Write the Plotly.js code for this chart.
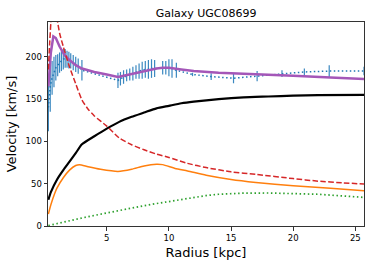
<!DOCTYPE html>
<html><head><meta charset="utf-8">
<script src="https://cdn.plot.ly/plotly-3.0.1.min.js"></script>
<style>html,body{margin:0;padding:0;background:#fff}#c{width:374px;height:266px}</style>
</head><body><div id="c"></div>
<script>
// Observed rotation curve
const obsR   = [0.3,0.45,0.6,0.75,0.9,1.05,1.2,1.35,1.5,1.65,1.8,1.95,2.1,2.3,2.5,2.7,3.0,
                5.9,6.1,6.35,6.6,6.85,7.1,7.35,7.6,7.85,8.1,8.35,8.6,8.85,9.5,9.75,10.0,10.25,10.6,
                11.9,13.4,15.2,17.1,19.1,20.9,22.9,25.7];
const obsV   = [140,165,175,182,187,190,193,195,197,198,197,196,195,193,191,189,184,
                172,174,176,178,179,180,182,183,184,185,185,186,186,187,187,187,186,184,
                179,176.5,174.6,177,180,182,183,183];
const obsErr = [28,30,20,18,15,13,12,12,12,11,10,10,9,9,9,9,12,
                9,8,8,7,7,8,8,9,10,10,11,11,10,8,8,10,11,9,
                2,4,6,6,4,4,7,5];
// Model total (purple)
const modR = [0.3,0.5,0.7,0.9,1.2,1.6,2.0,2.5,3.0,4.0,5.0,5.9,7.0,8.0,9.0,9.5,10.0,11.0,12.0,14.0,17.0,20.0,23.0,25.7];
const modV = [165,205,224,222,212,202,196,190,186,182,179,176,179.5,183,186,187,187,185,183,181,179.5,177.5,175.5,173.8];
// Black solid component
const blkR = [0.3,0.5,1.0,1.5,2.0,2.5,3.0,4.0,5.0,6.0,7.0,8.0,9.0,10.0,11.0,12.0,14.0,16.0,18.0,20.0,22.0,25.7];
const blkV = [31,40,55,66,76,86,96.5,106,115,123,129,134,139,142,145,147,150,152,153,154,154.5,155];
// Red dashed component
const redR = [0.3,0.4,0.5,0.6,0.8,1.0,1.2,1.5,2.0,2.5,3.0,3.5,4.0,5.0,6.0,7.0,8.0,9.0,10.0,11.5,13.0,15.0,17.0,20.0,22.0,24.0,25.7];
const redV = [185,215,240,255,262,245,228,212,188,168,149,138,130,118,104,96,90,85,81,74,69,64,61,56,53,51,49.5];
// Orange solid component
const orgR = [0.3,0.5,0.8,1.0,1.5,2.0,2.5,2.8,3.5,4.5,5.9,7.0,8.0,9.0,9.5,10.5,11.5,13.0,15.0,17.0,20.0,23.0,25.7];
const orgV = [14,25,38,45,57,66,71.5,72.5,70,67,64.5,67,71,73,72.5,68,65,60,55,51.5,47.5,44.5,41.6];
// Green dotted component
const grnR = [0.3,1,2,3,4,5,6,7,8,9,10,11,12,13,14,15,16,18,20,22,24,25.7];
const grnV = [0.5,3,6.5,9.5,12.5,15.5,18.5,21.5,24,26.5,29,31.5,34,36,37.5,38.3,38.8,39,38.5,37.5,35.5,33.8];

const traces = [
  {x: obsR, y: obsV, type:'scatter', mode:'lines',
   line:{color:'#1f77b4', width:1.5, dash:'1.5px,2.5px'},
   error_y:{type:'data', array: obsErr, visible:true, color:'#3a88c0', thickness:1.2, width:0}},
  {x: modR, y: modV, type:'scatter', mode:'lines', line:{color:'#a457b8', width:2.5}},
  {x: blkR, y: blkV, type:'scatter', mode:'lines', line:{color:'#000000', width:2.2, shape:'spline', smoothing:0.6}},
  {x: orgR, y: orgV, type:'scatter', mode:'lines', line:{color:'#ff7f0e', width:1.5, shape:'spline', smoothing:0.6}},
  {x: redR, y: redV, type:'scatter', mode:'lines', line:{color:'#d62728', width:1.5, dash:'5.5px,2.4px', shape:'spline', smoothing:0.6}},
  {x: grnR, y: grnV, type:'scatter', mode:'lines', line:{color:'#2ca02c', width:1.7, dash:'1.5px,2.6px'}}
];

const axisCommon = {
  showgrid:false, zeroline:false, showline:true, mirror:true, linecolor:'#333', linewidth:1,
  ticks:'outside', ticklen:3.5, tickwidth:1, tickcolor:'#333',
  tickfont:{family:'DejaVu Sans', size:8.5, color:'#000'}
};

const layout = {
  width:374, height:266,
  margin:{l:48, r:10, t:22, b:40},
  paper_bgcolor:'#fff', plot_bgcolor:'#fff',
  showlegend:false,
  title:{text:'Galaxy UGC08699', font:{family:'DejaVu Sans', size:11, color:'#000'},
         x:0.551, xanchor:'center', y:0.951, yanchor:'middle', yref:'container'},
  xaxis: Object.assign({}, axisCommon, {range:[0.27,25.7], tickvals:[5,10,15,20,25],
         title:{text:'Radius [kpc]', font:{family:'DejaVu Sans', size:13, color:'#000'}, standoff:6}}),
  yaxis: Object.assign({}, axisCommon, {range:[0,241], tickvals:[0,50,100,150,200],
         title:{text:'Velocity [km/s]', font:{family:'DejaVu Sans', size:13, color:'#000'}, standoff:6}})
};

Plotly.newPlot('c', traces, layout, {staticPlot:true, displayModeBar:false});
</script>
</body></html>
